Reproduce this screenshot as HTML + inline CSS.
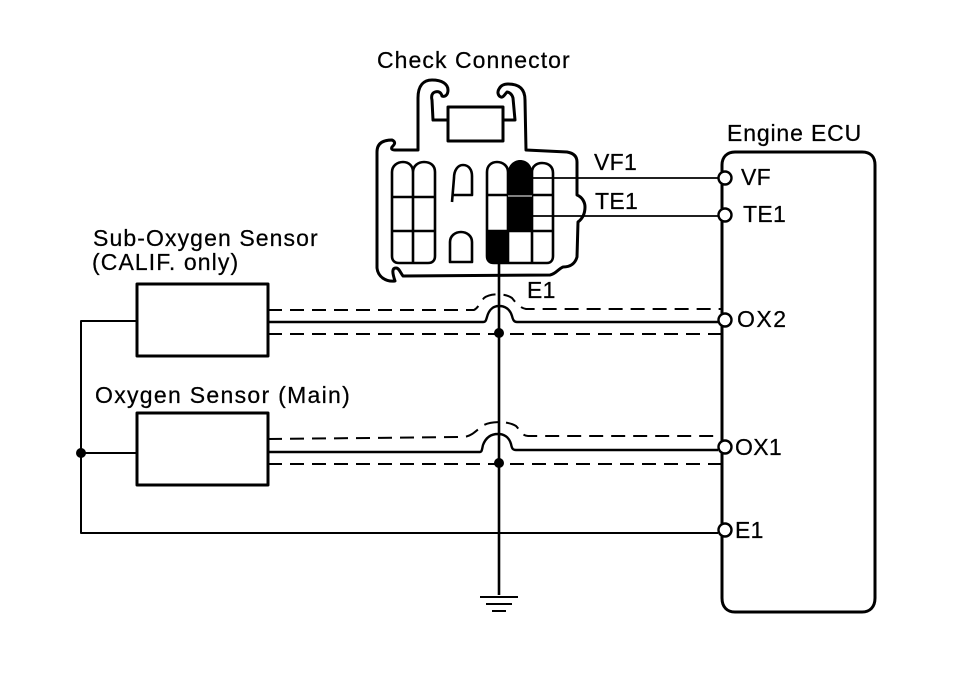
<!DOCTYPE html>
<html><head><meta charset="utf-8"><style>
html,body{margin:0;padding:0;background:#fff}
svg{display:block}
text{font-family:"Liberation Sans",sans-serif;font-size:23px;fill:#000;stroke:#000;stroke-width:.25px;letter-spacing:.3px}
</style></head><body>
<svg width="960" height="678" viewBox="0 0 960 678" xmlns="http://www.w3.org/2000/svg">
<g fill="none" stroke="#000" stroke-width="2.6" stroke-linejoin="round">
<!-- connector outline -->
<path stroke-width="3" d="M503 120H515L513 98C512 94 509 92 507 92C505 94 503 98 501 97C498 96 497 92 499 89C501 85 504 84 508 84C518 84 525 88 525 100L526 150L567 152C573 153 577 156 577 162V195C582 197 585 202 585 207C585 214 582 219 578 222L577 257C575 264 570 267 563 267C558 269 556 274 550 275L403 276C400 272 399 268 396 268C392 268 392 272 395 281C386 282 378 277 377 268V152C377 144 382 140 392 140C396 142 395 144 392 147C391 149 392 150 395 150H418V98C418 85 424 80 432 80C442 80 448 84 448 90C448 96 444 97 442 96C441 92 438 91 435 92C432 93 431 96 432 100L433 120H448"/>
<rect x="448" y="107" width="55" height="34" stroke-width="3"/>
<!-- left grid -->
<path d="M392 256V172C392 166 397 162 403 162C409 162 413 166 413 172C413 166 418 162 424 162C431 162 435 166 435 172V256C435 260 433 263 428 263H399C394 263 392 260 392 256ZM413 172V263M392 197H435M392 231H435"/>
<!-- middle -->
<path d="M452 202L454 178C454 170 458 165 463 165C469 165 472 170 472 176V195H453"/>
<path d="M450 262V242C450 236 455 232 461 232C467 232 472 236 472 242V262Z"/>
<!-- right grid -->
<path d="M487 256V172C487 166 491 162 497 162C503 162 508 166 508 172V231M532 172C532 166 537 163 542 163C549 163 553 167 553 173V256C553 260 551 263 547 263H494C489 263 487 260 487 256M487 195H508M532 195H553M487 231H553M532 172V263M508 231V263"/>
<!-- ECU -->
<path stroke-width="3" d="M722 165C722 157 727 152 735 152H862C871 152 875 157 875 165V598C875 607 870 612 862 612H735C727 612 722 607 722 598Z"/>
<!-- sensors -->
<rect x="137" y="284" width="131" height="72" stroke-width="3"/>
<rect x="137" y="413" width="131" height="72" stroke-width="3"/>
<!-- wires -->
<path stroke-width="1.8" d="M532 178H720M532 216H720"/>
<path stroke-width="2" d="M137 321H81V533H718M81 453H137"/>
<path stroke-width="2.6" d="M499 262V595"/>
<path stroke-width="2.4" d="M268 322H483C486 322 486 320 487 317C489 309 494 306 499 306C505 306 510 309 512 316C513 320 514 322 517 322H718"/>
<path stroke-width="2.4" d="M268 452H480C482 452 482 449 483 445C486 437 491 434 498 434C504 434 509 437 511 444C512 449 513 450 516 450H718"/>
<!-- dashes -->
<g stroke-width="2" stroke-dasharray="14 8">
<path d="M268 310H474C478 308 480 303 484 298C490 293 505 293 512 298C516 303 520 308 526 309H722"/>
<path d="M268 334H722"/>
<path d="M268 439L462 437C472 437 476 430 484 425C492 421 508 421 516 426C520 430 522 436 528 436H722"/>
<path d="M268 464H722"/>
</g>
<!-- ground -->
<path stroke-width="2" d="M480 597H518M486 604H512M492 611H506"/>
<!-- terminals -->
<g fill="#fff" stroke-width="2.4">
<circle cx="725" cy="178" r="6.5"/>
<circle cx="725" cy="215" r="6.5"/>
<circle cx="725" cy="320" r="6.5"/>
<circle cx="725" cy="447" r="6.5"/>
<circle cx="725" cy="530" r="6.5"/>
</g>
</g>
<!-- black pins -->
<path d="M508 172C508 165 514 160 520 160C527 160 532 165 532 172V231H508Z" fill="#000"/>
<path d="M508 196H532" stroke="#fff" stroke-width="1"/>
<path d="M487 231H508V263H494C489 263 487 260 487 256Z" fill="#000"/>
<!-- dots -->
<circle cx="499" cy="333" r="5"/>
<circle cx="499" cy="463" r="5"/>
<circle cx="81" cy="453" r="5"/>
<!-- labels -->
<text x="377" y="68" style="letter-spacing:1.07px">Check Connector</text>
<text x="727" y="141" style="letter-spacing:.85px">Engine ECU</text>
<text x="594" y="170">VF1</text>
<text x="595" y="209">TE1</text>
<text x="741" y="185">VF</text>
<text x="743" y="222">TE1</text>
<text x="527" y="298">E1</text>
<text x="737" y="327" style="letter-spacing:1.5px">OX2</text>
<text x="735" y="455">OX1</text>
<text x="735" y="538">E1</text>
<text x="93" y="246" style="letter-spacing:1.1px">Sub-Oxygen Sensor</text>
<text x="92" y="270" style="letter-spacing:1.1px">(CALIF. only)</text>
<text x="95" y="403" style="letter-spacing:1.3px">Oxygen Sensor (Main)</text>
</svg>
</body></html>
